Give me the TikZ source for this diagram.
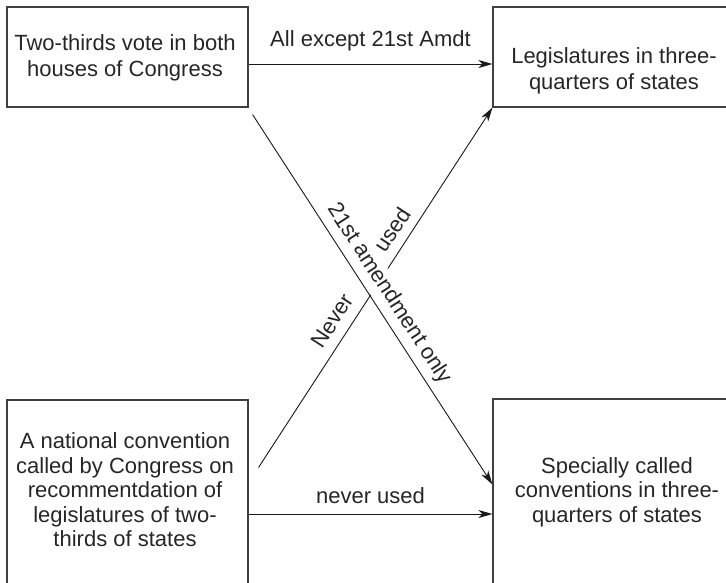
\documentclass[tikz,border=0pt]{standalone}
\usepackage{fontspec}
\setmainfont{Liberation Sans}
\usetikzlibrary{arrows.meta,calc}
\begin{document}
\begin{tikzpicture}[x=1pt,y=-1pt,
  box/.style={draw=black!75,line width=1.1pt,minimum width=241pt,minimum height=100pt,inner sep=0pt},
  tallbox/.style={box,minimum height=185pt},
  txt/.style={font=\fontsize{22}{24.5}\selectfont,text=black!85,align=center},
  lbl/.style={font=\fontsize{22}{24.5}\selectfont,text=black!85},
  conn/.style={draw=black!90,line width=0.9pt},
  arr/.style={conn,-{Stealth[length=14pt,width=8pt,inset=4pt]}}]
\useasboundingbox (0,0) rectangle (726,582);
\clip (0,0) rectangle (726,582);
% boxes
\node[box] (b1) at (127.5,57) {};
\node[box] (b2) at (613.5,57) {};
\node[tallbox] (b3) at (127.5,492.5) {};
\node[tallbox] (b4) at (613.5,491.5) {};
% texts
\node[txt,font=\fontsize{22}{25.5}\selectfont] (t1) at (125,58) {Two-thirds vote in both\\houses of Congress};
\node[txt,font=\fontsize{22}{25.5}\selectfont] (t2) at (614,71) {Legislatures in three-\\quarters of states};
\node[txt] (t3) at (125,490) {A national convention\\called by Congress on\\recommentdation of\\legislatures of two-\\thirds of states};
\node[txt] (t4) at (617,492) {Specially called\\conventions in three-\\quarters of states};
% endpoints
\coordinate (s1) at ($(b1.south east)+(4,7)$);
\coordinate (e1) at ($(b4.north west)+(0,86)$);
\coordinate (s2) at ($(b3.north east)+(10,68)$);
\coordinate (c2) at ($(s2)!0.48!(b2.south west)$);
\coordinate (g2) at ($(s2)!0.553!(b2.south west)$);
% horizontal arrows
\draw[arr] (b1.east |- 0,64) -- node[lbl,above=9pt] {All except 21st Amdt} (b2.west |- 0,64);
\draw[arr] (b3.east |- 0,514) -- node[lbl,above=7pt] {never used} (b4.west |- 0,514);
% diagonals
\draw[arr] (s1) -- node[lbl,sloped,above=3pt,pos=0.51] {21st amendment only} (e1);
\path (s2) -- (b2.south west)
  node[lbl,sloped,above=7pt,pos=0.38] {Never}
  node[lbl,sloped,above=6pt,pos=0.634] {used};
\draw[conn] (s2) -- (c2);
\draw[arr] (g2) -- (b2.south west);
\end{tikzpicture}
\end{document}
